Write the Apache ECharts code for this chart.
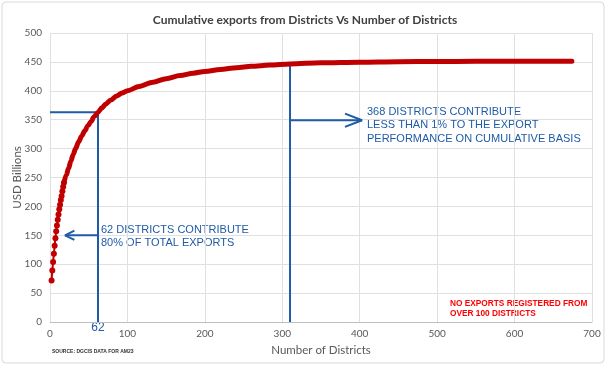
<!DOCTYPE html>
<html><head><meta charset="utf-8">
<script src="https://cdn.jsdelivr.net/npm/echarts@6/dist/echarts.min.js"></script>
<style>html,body{margin:0;padding:0;background:#fff}#c{width:610px;height:367px}</style>
</head><body><div id="c"></div>
<script>
// ---- data ----
const districtsEarly = [2,3,4,5,6,7,8,9,10,11,12,13,14,15,16,17,18];
const exportsEarly   = [72,89,104,118,132,145,157,167,177,186,195,203,211,218,226,234,241];
const districtsLate  = [18,21,24,27,30,33,37,41,45,49,53,57,62,67,72,78,86,93,100,115,133,150,168,185,200,220,241,260,284,310,350,400,450,500,550,600,640,674];
const exportsLate    = [241,254,266,278.5,290,300,312,322,331,339.5,347,355,363,370.5,377,383.5,391,396,400,407.5,415,421,426.5,430.5,433.5,437,440,442.3,444.5,446.5,448.5,449.5,450.3,450.7,451,451.2,451.3,451.3];
const xTicks = [0,100,200,300,400,500,600,700];
const yTicks = [0,50,100,150,200,250,300,350,400,450,500];
// annotation values
const top62Districts = 62, top62Value = 363;
const cutoffDistricts = 310, cutoffValue = 446.5;
const leftArrowValue = 150, leftArrowTip = 19.4, leftArrowArm = 31.5, leftArrowSpread = 8;
const rightArrowValue = 349, rightArrowTip = 403, rightArrowArm = 381, rightArrowSpread = 11.5;

const BLUE = '#1f5ba6', RED = '#c00000', GRAY = '#595959';
const pair = (xs, ys) => xs.map((x, i) => [x, ys[i]]);
const blueLine = (data) => ({type: 'line', z: 3, silent: true, symbol: 'none',
  lineStyle: {color: BLUE, width: 2}, data});

const chart = echarts.init(document.getElementById('c'), null, {renderer: 'canvas'});
chart.setOption({
  animation: false,
  backgroundColor: '#fff',
  title: {
    text: 'Cumulative exports from Districts Vs Number of Districts',
    left: 'center', top: 9,
    textStyle: {fontFamily: 'Lato', fontSize: 12, fontWeight: 'bold', color: '#404040'}
  },
  grid: {left: 50, right: 18, top: 33, bottom: 45, containLabel: false, outerBoundsMode: 'none'},
  xAxis: {
    type: 'value', min: xTicks[0], max: xTicks[xTicks.length - 1], interval: 100,
    name: 'Number of Districts', nameLocation: 'middle', nameGap: 22, nameMoveOverlap: false,
    nameTextStyle: {fontFamily: 'Lato', fontSize: 11.5, color: GRAY},
    axisLine: {show: true, lineStyle: {color: '#bfbfbf'}},
    axisTick: {show: false},
    axisLabel: {fontFamily: 'Lato', fontSize: 10, color: GRAY, margin: 7},
    splitLine: {show: true, lineStyle: {color: '#e0e0e0'}}
  },
  yAxis: {
    type: 'value', min: yTicks[0], max: yTicks[yTicks.length - 1], interval: 50,
    name: 'USD Billions', nameLocation: 'middle', nameGap: 27, nameRotate: 90, nameMoveOverlap: false,
    nameTextStyle: {fontFamily: 'Lato', fontSize: 11.5, color: GRAY},
    axisLine: {show: false}, axisTick: {show: false},
    axisLabel: {fontFamily: 'Lato', fontSize: 10, color: GRAY, margin: 8},
    splitLine: {show: true, lineStyle: {color: '#e0e0e0'}}
  },
  series: [
    blueLine([[0, top62Value], [top62Districts, top62Value], [top62Districts, 0]]),
    blueLine([[cutoffDistricts, 0], [cutoffDistricts, cutoffValue]]),
    blueLine([[top62Districts, leftArrowValue], [leftArrowTip, leftArrowValue]]),
    blueLine([[leftArrowArm, leftArrowValue + leftArrowSpread], [leftArrowTip, leftArrowValue], [leftArrowArm, leftArrowValue - leftArrowSpread]]),
    blueLine([[cutoffDistricts, rightArrowValue], [rightArrowTip, rightArrowValue]]),
    blueLine([[rightArrowArm, rightArrowValue + rightArrowSpread], [rightArrowTip, rightArrowValue], [rightArrowArm, rightArrowValue - rightArrowSpread]]),
    {type: 'line', z: 5, silent: true, symbol: 'none', smooth: 0.3, smoothMonotone: 'x',
     lineStyle: {color: RED, width: 5, cap: 'round', join: 'round'},
     data: pair(districtsLate, exportsLate)},
    {type: 'line', z: 6, silent: true, symbol: 'circle', symbolSize: 6, showAllSymbol: true,
     itemStyle: {color: RED}, lineStyle: {color: RED, width: 2},
     data: pair(districtsEarly, exportsEarly)}
  ],
  graphic: [
    {type: 'rect', z: -1, shape: {x: 2, y: 2, width: 602, height: 361, r: 4},
     style: {fill: 'none', stroke: '#d9d9d9', lineWidth: 1}},
    {type: 'text', x: 367, y: 105, style: {
      text: '368 DISTRICTS CONTRIBUTE\nLESS THAN 1% TO THE EXPORT\nPERFORMANCE ON CUMULATIVE BASIS',
      fill: BLUE, font: '11px "Liberation Sans", Arial, sans-serif', lineHeight: 13.5}},
    {type: 'text', x: 101, y: 223, style: {
      text: '62 DISTRICTS CONTRIBUTE\n80% OF TOTAL EXPORTS',
      fill: BLUE, font: '11px "Liberation Sans", Arial, sans-serif', lineHeight: 13.5}},
    {type: 'text', x: 98, y: 328, style: {
      text: '62', fill: BLUE, font: '12px "Liberation Sans", Arial, sans-serif', align: 'center', verticalAlign: 'middle'}},
    {type: 'text', x: 450, y: 299, style: {
      text: 'NO EXPORTS REGISTERED FROM\nOVER 100 DISTRICTS',
      fill: '#ff0000', font: 'bold 8.3px "Liberation Sans", Arial, sans-serif', lineHeight: 10}},
    {type: 'text', x: 52, y: 349, style: {
      text: 'SOURCE: DGCIS DATA FOR AM23',
      fill: '#333', font: 'bold 5px "Liberation Sans", Arial, sans-serif'}}
  ]
});
</script></body></html>
